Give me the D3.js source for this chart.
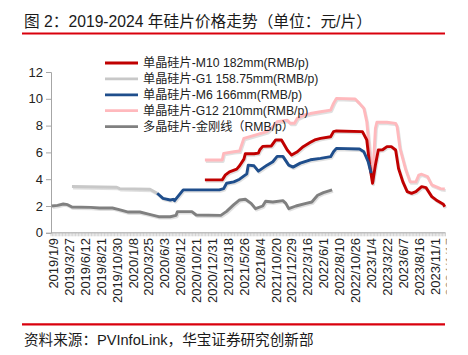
<!DOCTYPE html>
<html><head><meta charset="utf-8">
<script src="https://cdn.jsdelivr.net/npm/d3@7"></script>
<style>body{margin:0;background:#fff}</style>
</head><body><svg id="c" width="468" height="355"></svg>
<script>
const tickLabels = ["2019/1/9","2019/3/27","2019/6/12","2019/8/21","2019/10/30","2020/1/8","2020/3/25","2020/6/3","2020/8/12","2020/10/21","2020/12/31","2021/3/18","2021/5/26","2021/8/4","2021/10/20","2021/12/29","2022/3/16","2022/6/1","2022/8/10","2022/10/26","2023/1/4","2023/3/22","2023/6/7","2023/8/16","2023/11/1","2024/1/17"];
const weeksPerLabel = 11;
const nWeeks = 273;
const yTicks = [0,2,4,6,8,10,12];

// [week index, price RMB/piece]
const seriesM10 = [[106,3.95],[118,3.95],[120,4.3],[123,4.55],[128,4.75],[130,5.0],[133,5.5],[134,5.9],[140,5.9],[143,5.95],[144,6.2],[146,6.45],[152,6.48],[155,6.93],[159,6.93],[163,6.18],[166,5.8],[170,6.05],[174,6.43],[179,6.75],[182,6.93],[186,7.05],[193,7.17],[195,7.55],[197,7.6],[215,7.55],[218,6.93],[220,5.06],[222,3.7],[224,5.06],[226,6.18],[229,6.2],[232,6.43],[235,6.43],[238,6.18],[240,4.8],[243,3.8],[246,3.07],[249,2.95],[252,3.07],[256,3.44],[259,3.37],[263,2.7],[266,2.45],[271,2.13],[272,1.95]];
const seriesG1 = [[14,3.45],[45,3.4],[47,3.3],[68,3.25],[73,2.95]];
const seriesM6 = [[73,2.95],[77,2.57],[82,2.45],[84,2.5],[85,2.4],[91,3.2],[116,3.2],[119,3.3],[121,3.7],[126,3.8],[130,4.0],[135,4.4],[136,5.05],[140,5.0],[143,4.6],[149,5.05],[153,5.3],[156,5.7],[160,5.7],[164,5.05],[167,4.9],[172,5.2],[179,5.45],[186,5.55],[193,5.68],[195,6.05],[197,6.3],[213,6.25],[216,6.05],[219,5.3],[221,4.45]];
const seriesG12 = [[106,5.43],[118,5.43],[119,5.93],[126,6.05],[130,6.1],[133,7.05],[149,7.55],[153,7.9],[156,8.3],[163,8.4],[165,8.17],[168,8.17],[170,8.55],[175,8.8],[179,8.9],[186,9.03],[193,9.16],[195,9.66],[197,10.03],[210,9.98],[213,9.66],[216,9.3],[218,8.3],[220,6.05],[222,3.94],[224,7.8],[225,8.25],[232,8.25],[238,8.17],[239,7.92],[241,6.3],[245,4.7],[248,3.8],[252,3.8],[254,4.3],[256,4.37],[260,4.2],[263,3.57],[269,3.3],[272,3.27]];
const seriesPoly = [[0,2.0],[4,2.05],[8,2.15],[11,2.1],[14,1.92],[27,1.9],[33,1.85],[42,1.85],[46,1.75],[53,1.55],[61,1.55],[67,1.4],[74,1.2],[82,1.2],[86,1.3],[87,1.58],[97,1.58],[100,1.33],[117,1.3],[121,1.6],[126,2.1],[130,2.45],[134,2.5],[138,2.2],[141,1.8],[146,2.0],[148,2.35],[153,2.3],[160,2.4],[162,2.2],[164,1.8],[169,2.0],[176,2.2],[180,2.3],[184,2.8],[188,3.0],[194,3.2]];

const seriesNames = ["单晶硅片-M10 182mm(RMB/p)","单晶硅片-G1 158.75mm(RMB/p)","单晶硅片-M6 166mm(RMB/p)","单晶硅片-G12 210mm(RMB/p)","多晶硅片-金刚线（RMB/p）"];
const seriesData = [seriesM10, seriesG1, seriesM6, seriesG12, seriesPoly];
const colors = ["#c00000","#c8c8c8","#1f4e8c","#ffb9bd","#808080"];
const drawOrder = [3,1,4,0,2];

const FONT = "'Liberation Sans', Arial, 'Noto Sans CJK SC', sans-serif";
const svg = d3.select("#c");
const x = d3.scaleLinear().domain([-0.5, nWeeks-0.5]).range([51, 445.5]);
const y = d3.scaleLinear().domain([0,12]).range([232.8, 72]);

// title
svg.append("text").attr("x",24).attr("y",27).attr("font-family",FONT).attr("font-size",15.7).attr("fill","#1a1a1a")
  .text("图 2：2019-2024 年硅片价格走势（单位：元/片）");
svg.append("line").attr("x1",22).attr("x2",445).attr("y1",33.5).attr("y2",33.5).attr("stroke","#d9000d").attr("stroke-width",2.2);

// y axis
const yAxis = svg.append("g").attr("transform","translate(51,0)")
  .call(d3.axisLeft(y).tickValues(yTicks).tickSize(5).tickPadding(3).tickFormat(d3.format("d")));
yAxis.select(".domain").attr("stroke","#a6a6a6");
yAxis.selectAll(".tick line").attr("stroke","#a6a6a6");
yAxis.selectAll("text").attr("font-family",FONT).attr("font-size",13).attr("fill","#222");

// x axis
const xg = svg.append("g").attr("transform",`translate(0,${y(0)})`);
xg.append("line").attr("x1",51).attr("x2",445.5).attr("stroke","#a6a6a6");
xg.selectAll("line.tk").data(d3.range(nWeeks+1)).join("line").attr("class","tk")
  .attr("x1",d=>x(d-0.5)).attr("x2",d=>x(d-0.5)).attr("y1",0).attr("y2",3.5)
  .attr("stroke","#b5b5b5").attr("stroke-width",0.6);
svg.append("clipPath").attr("id","lc").append("rect").attr("x",0).attr("y",0).attr("width",446.5).attr("height",355);
svg.append("g").attr("clip-path","url(#lc)").selectAll("text").data(tickLabels).join("text")
  .attr("transform",(d,i)=>`translate(${x(i*weeksPerLabel)+1.8},238) rotate(-90)`)
  .attr("text-anchor","end").attr("dominant-baseline","central")
  .attr("font-family",FONT).attr("font-size",13).attr("fill","#222").text(d=>d);

// lines
const line = d3.line().x(d=>x(d[0])).y(d=>y(d[1]));
const lg = svg.append("g");
drawOrder.forEach(i=>{
  lg.append("path").attr("d",line(seriesData[i])).attr("fill","none").attr("stroke","#000").attr("stroke-opacity",0.12)
    .attr("stroke-width",2.8).attr("transform","translate(1,1.5)").attr("stroke-linejoin","round");
  lg.append("path").attr("d",line(seriesData[i])).attr("fill","none").attr("stroke",colors[i])
    .attr("stroke-width",2.9).attr("stroke-linejoin","round");
});

// legend
const leg = svg.append("g");
seriesNames.forEach((n,i)=>{
  const yy = 63 + i*15.9;
  leg.append("line").attr("x1",105).attr("x2",138).attr("y1",yy).attr("y2",yy).attr("stroke",colors[i]).attr("stroke-width",2.8);
  leg.append("text").attr("x",143).attr("y",yy).attr("dominant-baseline","central")
    .attr("font-family",FONT).attr("font-size",12.2).attr("fill","#222").text(n);
});

// source
svg.append("line").attr("x1",22).attr("x2",445).attr("y1",324.3).attr("y2",324.3).attr("stroke","#d9000d").attr("stroke-width",2.2);
svg.append("text").attr("x",24).attr("y",345).attr("font-family",FONT).attr("font-size",14.6).attr("fill","#1a1a1a")
  .text("资料来源：PVInfoLink，华宝证券研究创新部");
</script></body></html>
